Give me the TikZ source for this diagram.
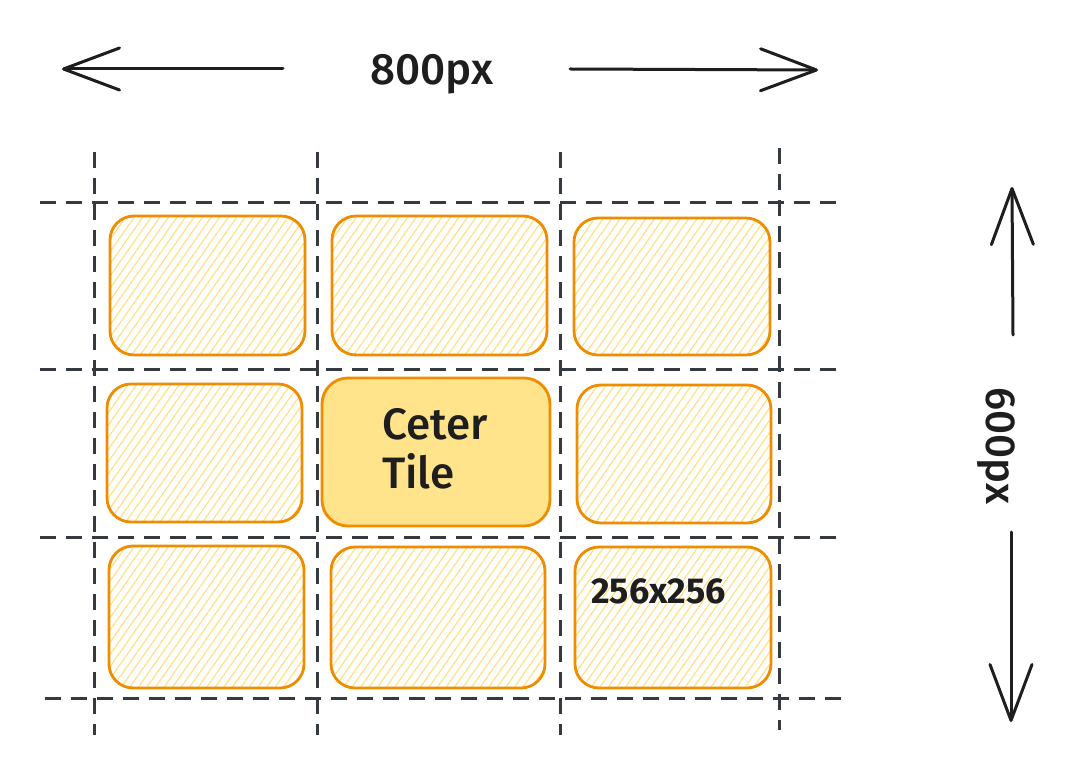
\documentclass[tikz,border=0pt]{standalone}
\usepackage{fontspec}
\setmainfont{Fira Sans}
\newfontfamily\medfont{Fira Sans Medium}
\usetikzlibrary{arrows.meta,patterns.meta}
\definecolor{gridc}{HTML}{343A40}
\definecolor{tileline}{HTML}{F08C00}
\definecolor{hatch}{HTML}{FFDD70}
\definecolor{centerfill}{HTML}{FFE48C}
\definecolor{inkc}{HTML}{1E1E1E}
\begin{document}
\begin{tikzpicture}[x=1pt,y=-1pt,
  gridline/.style={draw=gridc,line width=3pt,dash pattern=on 16pt off 10pt},
  tile/.style={draw=tileline,line width=2.8pt,rounded corners=24pt,
    pattern={Lines[angle=55,distance=7pt,line width=1pt]},pattern color=hatch,
    inner sep=0pt,outer sep=0pt},
  ctile/.style={draw=tileline,line width=2.8pt,rounded corners=26pt,fill=centerfill,
    inner sep=0pt,outer sep=0pt},
  arr/.style={draw=inkc,line width=3pt,line cap=round,
    -{Straight Barb[length=56pt,width=42pt,line width=3pt,round]}},
  lbl/.style={text=inkc,inner sep=0pt}
]
\fill[white] (0,0) rectangle (1077,775);
\useasboundingbox (0,0) rectangle (1077,775);

% grid
\draw[gridline] (94,152) -- (94,735);
\draw[gridline] (317,152) -- (317,735);
\draw[gridline] (560,152) -- (560,735);
\draw[gridline] (779,148) -- (779,730);
\draw[gridline] (40,203) -- (840,203);
\draw[gridline] (40,370) -- (840,370);
\draw[gridline] (40,537) -- (840,537);
\draw[gridline] (45,698) -- (848,698);

% tiles
\node[tile,minimum width=195pt,minimum height=139pt] (t11) at (207.5,285.5) {};
\node[tile,minimum width=215pt,minimum height=139pt] (t12) at (439.5,285.5) {};
\node[tile,minimum width=196pt,minimum height=137pt] (t13) at (672,286.5) {};
\node[tile,minimum width=195pt,minimum height=138pt] (t21) at (204.5,453) {};
\node[ctile,minimum width=228pt,minimum height=148pt] (t22) at (436,452) {};
\node[tile,minimum width=194pt,minimum height=138pt] (t23) at (674,454) {};
\node[tile,minimum width=195pt,minimum height=142pt] (t31) at (206.5,617) {};
\node[tile,minimum width=214pt,minimum height=141pt] (t32) at (438,617.5) {};
\node[tile,minimum width=196pt,minimum height=141pt] (t33) at (673,617.5) {};

% labels
\node[lbl,font=\medfont\fontsize{44}{52}\selectfont,anchor=base west] (c1) at (382,440) {Ceter};
\node[lbl,font=\medfont\fontsize{44}{52}\selectfont,anchor=base west] (c2) at (382,489) {Tile};
\node[lbl,font=\fontsize{36}{42}\selectfont\bfseries,anchor=base west] (s) at (591,603) {256x256};
\node[lbl,font=\medfont\fontsize{44}{52}\selectfont,anchor=base] (w) at (432,85) {800px};
\node[lbl,font=\medfont\fontsize{42}{50}\selectfont,rotate=-90,anchor=base] (h) at (986,446) {600px};

% dimension arrows
\coordinate (la) at (283,69);
\coordinate (lb) at (62,69);
\coordinate (ra) at (570,69);
\coordinate (rb) at (818,70);
\coordinate (ua) at (1013,335);
\coordinate (ub) at (1012,187);
\coordinate (da) at (1011,532);
\coordinate (db) at (1011,722);
\draw[arr] (la) -- (lb);
\draw[arr] (ra) -- (rb);
\draw[arr] (ua) -- (ub);
\draw[arr] (da) -- (db);
\end{tikzpicture}
\end{document}
